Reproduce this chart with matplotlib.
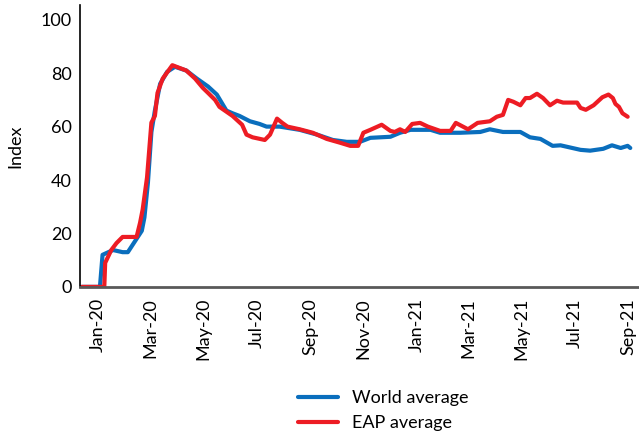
import matplotlib
matplotlib.use("Agg")
import matplotlib.pyplot as plt
import matplotlib.dates as mdates
import matplotlib.transforms as mtransforms
import pandas as pd

plt.rcParams['font.family'] = ['Lato', 'DejaVu Sans']

# World average
world_dates = ["2020-01-01", "2020-01-22", "2020-01-25", "2020-02-06", "2020-02-17", "2020-02-23",
               "2020-03-02", "2020-03-10", "2020-03-13", "2020-03-17", "2020-03-21", "2020-03-25",
               "2020-03-31", "2020-04-08", "2020-04-17", "2020-04-30", "2020-05-12", "2020-05-25",
               "2020-06-04", "2020-06-15", "2020-06-22", "2020-06-30", "2020-07-12", "2020-07-23",
               "2020-07-31", "2020-08-15", "2020-09-07", "2020-09-27", "2020-10-15", "2020-10-31",
               "2020-11-15", "2020-11-27", "2020-12-20", "2020-12-31", "2021-01-12", "2021-02-04",
               "2021-02-15", "2021-03-10", "2021-04-02", "2021-04-13", "2021-04-28", "2021-05-18",
               "2021-05-29", "2021-06-10", "2021-06-24", "2021-07-03", "2021-07-26", "2021-08-06",
               "2021-08-21", "2021-08-31", "2021-09-10", "2021-09-18", "2021-09-21"]
world_vals = [0, 0, 12, 13.8, 13, 13,
              17, 21, 26, 39, 58, 66,
              76, 80.5, 82.4, 81, 78, 75,
              72, 66, 65, 64, 62, 61,
              60, 60, 58.8, 57, 55, 54.3,
              54.3, 55.8, 56.2, 57.7, 58.8, 58.8,
              57.7, 57.7, 58, 59, 58, 58,
              56, 55.4, 52.8, 53, 51.3, 51,
              51.7, 53, 52, 52.8, 52]

# EAP average
eap_dates = ["2020-01-01", "2020-01-27", "2020-01-28", "2020-02-04", "2020-02-10", "2020-02-17",
             "2020-03-04", "2020-03-08", "2020-03-11", "2020-03-16", "2020-03-21", "2020-03-25",
             "2020-03-28", "2020-04-03", "2020-04-14", "2020-04-30", "2020-05-10", "2020-05-19",
             "2020-05-25", "2020-06-02", "2020-06-07", "2020-06-22", "2020-07-03", "2020-07-08",
             "2020-07-15", "2020-07-29", "2020-08-04", "2020-08-12", "2020-08-18", "2020-08-24",
             "2020-09-07", "2020-09-22", "2020-10-08", "2020-10-23", "2020-11-04", "2020-11-13",
             "2020-11-19", "2020-11-27", "2020-12-10", "2020-12-20", "2020-12-25", "2020-12-31",
             "2021-01-06", "2021-01-14", "2021-01-23", "2021-02-01", "2021-02-15", "2021-02-27",
             "2021-03-05", "2021-03-19", "2021-03-30", "2021-04-13", "2021-04-21", "2021-04-28",
             "2021-05-04", "2021-05-10", "2021-05-18", "2021-05-24", "2021-05-29", "2021-06-06",
             "2021-06-13", "2021-06-21", "2021-06-29", "2021-07-06", "2021-07-22", "2021-07-26",
             "2021-08-01", "2021-08-10", "2021-08-20", "2021-08-27", "2021-09-01", "2021-09-04",
             "2021-09-08", "2021-09-12", "2021-09-18"]
eap_vals = [0, 0, 9, 13.8, 16.4, 18.7,
            18.7, 24, 29, 41, 61.5, 64,
            72.6, 78, 83, 81, 78, 74.5,
            72.6, 70, 67.4, 64, 60.7, 57,
            56, 55, 57, 63, 61.4, 60,
            59, 57.7, 55.4, 54, 52.8, 52.8,
            57.7, 58.8, 60.7, 58.4, 58, 59,
            58, 61, 61.4, 60, 58.4, 58.4,
            61.4, 59, 61.4, 62, 63.7, 64.4,
            70, 69.3, 68, 70.7, 70.7, 72.3,
            70.7, 68, 69.7, 69, 69, 67,
            66.3, 68, 71, 72, 70.7, 68.5,
            67.4, 65, 63.7]

tick_dates = ["2020-01-01", "2020-03-01", "2020-05-01", "2020-07-01", "2020-09-01", "2020-11-01",
              "2021-01-01", "2021-03-01", "2021-05-01", "2021-07-01", "2021-09-01"]
tick_labels = ["Jan-20", "Mar-20", "May-20", "Jul-20", "Sep-20", "Nov-20",
               "Jan-21", "Mar-21", "May-21", "Jul-21", "Sep-21"]

fig = plt.figure(figsize=(6.39, 4.38), dpi=100)
ax = fig.add_axes([0.125, 0.345, 0.875, 0.644])

ax.plot(pd.to_datetime(world_dates), world_vals, color="#0A6EBD", lw=3, label="World average",
        solid_joinstyle="round", solid_capstyle="round")
ax.plot(pd.to_datetime(eap_dates), eap_vals, color="#ED1C24", lw=3, label="EAP average",
        solid_joinstyle="round", solid_capstyle="round")

ax.set_ylim(0, 105.6)
ax.set_yticks([0, 20, 40, 60, 80, 100])
ax.set_xlim(pd.Timestamp("2019-12-30"), pd.Timestamp("2021-10-01"))
ax.set_xticks(pd.to_datetime(tick_dates))
ax.set_xticklabels(tick_labels, rotation=90)
ax.tick_params(axis="both", length=0, labelsize=13, colors="black")
ax.tick_params(axis="y", pad=6)
ax.tick_params(axis="x", pad=8)

# Excel-style offset of the date labels
shift = mtransforms.ScaledTranslation(0.16, 0, fig.dpi_scale_trans)
for lab in ax.get_xticklabels():
    lab.set_transform(lab.get_transform() + shift)

ax.set_ylabel("Index", fontsize=13, labelpad=12)

ax.spines["top"].set_visible(False)
ax.spines["right"].set_visible(False)
ax.spines["left"].set_color("black")
ax.spines["left"].set_linewidth(1.2)
ax.spines["bottom"].set_color("#595959")
ax.spines["bottom"].set_linewidth(2)

fig.legend(loc="center", bbox_to_anchor=(0.60, 0.062), frameon=False, fontsize=13,
           handlelength=2.2, labelspacing=0.5)

fig.savefig("out.png", dpi=100)
